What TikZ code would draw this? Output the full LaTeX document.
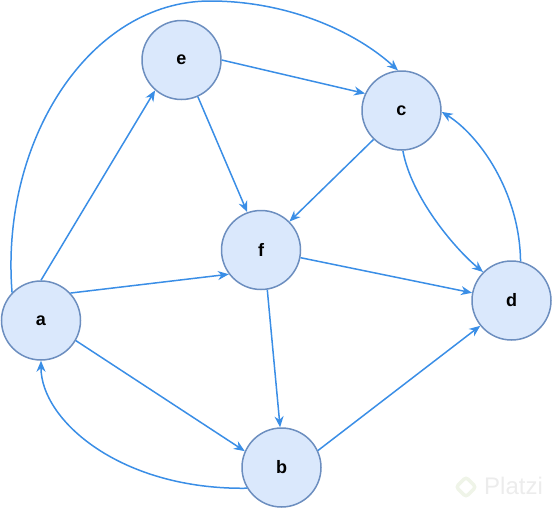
\documentclass[tikz,border=0pt]{standalone}
\usepackage{fontspec}
\setmainfont{Liberation Sans}
\usetikzlibrary{arrows.meta}
\definecolor{nodefill}{HTML}{DAE8FC}
\definecolor{nodeline}{HTML}{6C8EBF}
\definecolor{edgecol}{HTML}{3A8EE6}
\definecolor{marktext}{HTML}{ECECEC}
\definecolor{marklogo}{HTML}{EFF4E8}
\begin{document}
\begin{tikzpicture}[x=1pt,y=-1pt,
  vertex/.style={circle, draw=nodeline, fill=nodefill, line width=1.5pt,
    minimum size=79pt, inner sep=0pt, font=\fontsize{18}{21}\selectfont\bfseries},
  edge/.style={draw=edgecol, line width=1.5pt,
    -{Stealth[length=11pt,width=9pt,inset=3.5pt]}},
  watermark/.style={text=marktext, font=\fontsize{24}{28}\selectfont, inner sep=0pt},
  logo/.style={draw=marklogo, line width=3.5pt, rounded corners=3pt,
    minimum size=14pt, inner sep=0pt, rotate=45}]
\useasboundingbox (0,0) rectangle (552,509);

% watermark
\node[logo] (wlogo) at (466,487) {};
\node[watermark, anchor=west] (wtext) at (484,486) {Platzi};

% nodes
\node[vertex] (a) at (41,320.5) {a};
\node[vertex] (b) at (281.5,467.5) {b};
\node[vertex] (c) at (401.5,110.5) {c};
\node[vertex] (d) at (511.5,300.5) {d};
\node[vertex] (e) at (181.5,60) {e};
\node[vertex] (f) at (261,250) {f};

% edges
\draw[edge] (a.north) -- (e.229);
\draw[edge] (a.43) -- (f.217);
\draw[edge] (a.-30) -- (b.156);
\draw[edge] (a.136) .. controls (0,140) and (90,1) .. (210,1)
  .. controls (290,1) and (357,33) .. (c.95);
\draw[edge] (e.east) -- (c.155);
\draw[edge] (e.-66) -- (f.110);
\draw[edge] (c.-134) -- (f.45);
\draw[edge] (c.-88) .. controls +(8,45) and +(-30,-25) .. (d.135);
\draw[edge] (d.77) .. controls +(-1,-70) and +(37,23) .. (c.-2);
\draw[edge] (f.-11) -- (d.169);
\draw[edge] (f.-81) -- (b.92);
\draw[edge] (b.25) -- (d.-141);
\draw[edge] (b.-149) .. controls (120,490) and (41,420) .. (a.south);
\end{tikzpicture}
\end{document}
